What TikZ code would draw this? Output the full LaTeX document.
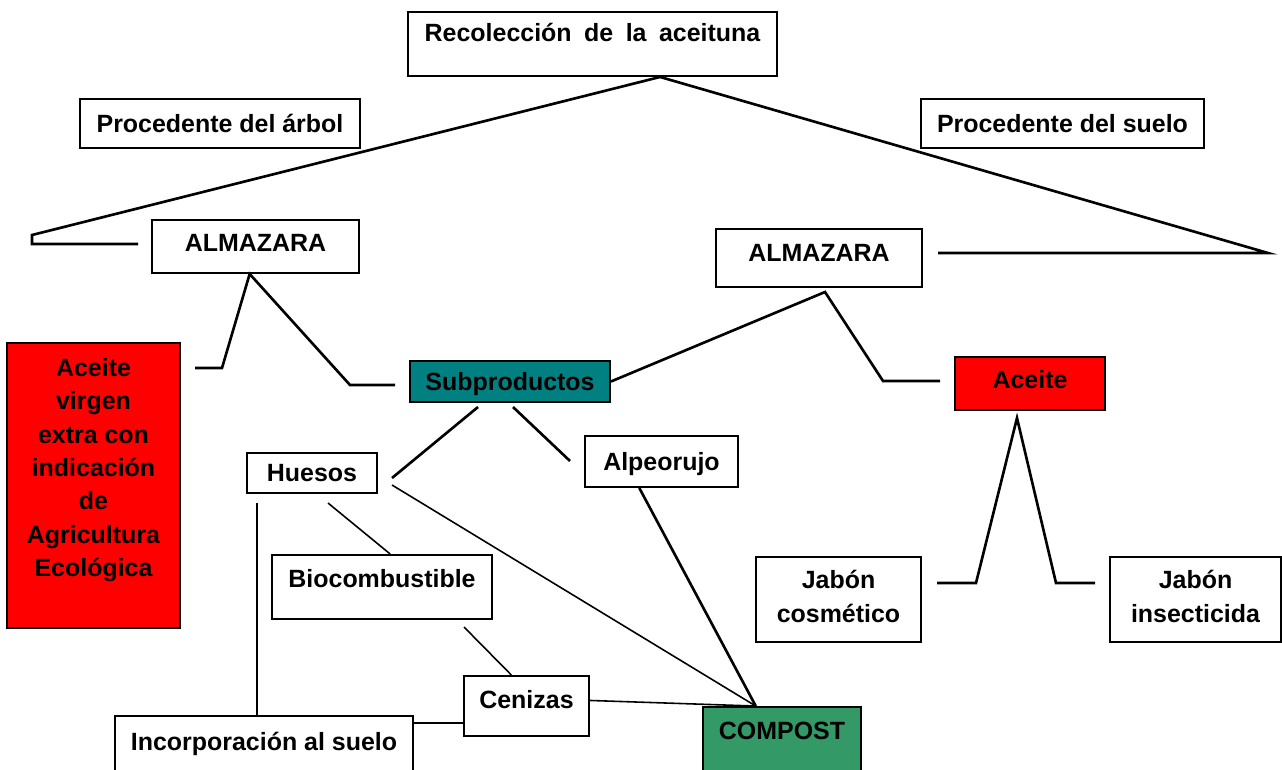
\documentclass[tikz,border=0pt]{standalone}
\usepackage{fontspec}
\setmainfont{Liberation Sans}
\usepackage{xcolor}
\usepackage{tikz}
\usetikzlibrary{calc}

\definecolor{oilred}{RGB}{255,0,0}
\definecolor{byteal}{RGB}{0,128,128}
\definecolor{compgreen}{RGB}{51,153,102}

\begin{document}
\begin{tikzpicture}[x=0.02cm,y=-0.02cm,
    box/.style={draw,line width=1.1pt,inner sep=0pt,align=center,
        font=\fontsize{14.2}{19}\selectfont\bfseries,
        text height=10.2pt,text depth=0pt},
    lift/.style={text depth=#1},
    link/.style={line width=1.5pt},
    thinlink/.style={line width=0.9pt}]
            \clip (0,0) rectangle (1282,769);

            % Boxes
            \node[box,lift=13pt,minimum width=7.38cm,minimum height=1.28cm] (recol) at (592.5,44)
                {Recolección\hspace{.5em}de\hspace{.5em}la\hspace{.5em}aceituna};
            \node[box,minimum width=5.6cm,minimum height=0.98cm] (arbol) at (220,123.5) {Procedente del árbol};
            \node[box,minimum width=5.66cm,minimum height=0.98cm] (suelo) at (1062.5,123.5) {Procedente del suelo};
            \node[box,lift=5pt,minimum width=4.14cm,minimum height=1.06cm] (almL) at (255.5,246.5) {ALMAZARA};
            \node[box,lift=5.7pt,minimum width=4.12cm,minimum height=1.16cm] (almR) at (819,258) {ALMAZARA};
            \node[box,fill=oilred,text height=124.2pt,lift=20.4pt,minimum width=3.46cm,minimum height=5.7cm] (virgen) at (93.5,485.5)
                {Aceite\\virgen\\extra con\\indicación\\de\\Agricultura\\Ecológica};
            \node[box,fill=byteal,minimum width=4cm,minimum height=0.82cm] (subp) at (510,381.5) {Subproductos};
            \node[box,fill=oilred,lift=4pt,minimum width=3cm,minimum height=1.06cm] (aceite) at (1030,383.5) {Aceite};
            \node[box,minimum width=2.6cm,minimum height=0.8cm] (huesos) at (312,473) {Huesos};
            \node[box,minimum width=3.06cm,minimum height=1.02cm] (alpe) at (661.5,461.5) {Alpeorujo};
            \node[box,lift=10.2pt,minimum width=4.4cm,minimum height=1.28cm] (biocomb) at (382,587) {Biocombustible};
            \node[box,text height=29.2pt,lift=3.4pt,minimum width=3.3cm,minimum height=1.7cm] (jcos) at (838.5,599.5) {Jabón\\cosmético};
            \node[box,text height=29.2pt,lift=3.4pt,minimum width=3.42cm,minimum height=1.7cm] (jins) at (1195.5,599.5) {Jabón\\insecticida};
            \node[box,lift=7.9pt,minimum width=2.5cm,minimum height=1.2cm] (ceniz) at (526.5,706) {Cenizas};
            \node[box,lift=7.9pt,minimum width=5.96cm,minimum height=1.28cm] (incorp) at (264,748) {Incorporación al suelo};
            \node[box,fill=compgreen,lift=15.3pt,minimum width=3.16cm,minimum height=1.46cm] (comp) at (782,743.5) {COMPOST};

            % Bends and loose ends
            \coordinate (arbolKnee) at (32,235);
            \coordinate (arbolFoot) at (32,244);
            \coordinate (arbolEnd) at (138,244);
            \coordinate (sueloTip) at (1268,253);
            \coordinate (sueloEnd) at (938,253);
            \coordinate (virgKnee) at (222,368);
            \coordinate (virgEnd) at (195,368);
            \coordinate (subpKnee) at (350,385);
            \coordinate (subpEnd) at (395,385);
            \coordinate (almRTip) at (825,292);
            \coordinate (aceKnee) at (883,381);
            \coordinate (aceEnd) at (940,381);
            \coordinate (aceTip) at (1017,418);
            \coordinate (jcosKnee) at (976,583);
            \coordinate (jcosEnd) at (937,583);
            \coordinate (jinsKnee) at (1056,583);
            \coordinate (jinsEnd) at (1095,583);
            \coordinate (subpL) at (478,407);
            \coordinate (huesEnd) at (392,478);
            \coordinate (subpR) at (513,407);
            \coordinate (alpeEnd) at (570,461);
            \coordinate (huesR) at (392,485);
            \coordinate (huesB) at (328,503);
            \coordinate (huesV) at (257,503);
            \coordinate (biocB) at (464,627);

            % Tree lines
            \draw[link] (recol.-26) -- (arbolKnee) -- (arbolFoot) -- (arbolEnd);
            \draw[link] (recol.-26) -- (sueloTip) -- (sueloEnd);
            \draw[link] (virgEnd) -- (virgKnee) -- (almL.-102) -- (subpKnee) -- (subpEnd);
            \draw[link] (subp.east) -- (almRTip) -- (aceKnee) -- (aceEnd);
            \draw[link] (jcosEnd) -- (jcosKnee) -- (aceTip) -- (jinsKnee) -- (jinsEnd);
            \draw[link] (huesEnd) -- (subpL);
            \draw[link] (subpR) -- (alpeEnd);
            \draw[link] (alpe.230) -- (comp.125.5);

            % Thin lines
            \draw[thinlink] (huesR) -- (comp.125.5);
            \draw[thinlink] (huesB) -- (biocomb.76);
            \draw[thinlink] (biocB) -- (ceniz.116);
            \draw[thinlink] (huesV) -- (huesV |- incorp.north);
            \draw[thinlink] (ceniz.195) -- (ceniz.195 -| incorp.east);
            \draw[thinlink] (ceniz.5) -- (comp.125.5);
        \end{tikzpicture}
\end{document}
